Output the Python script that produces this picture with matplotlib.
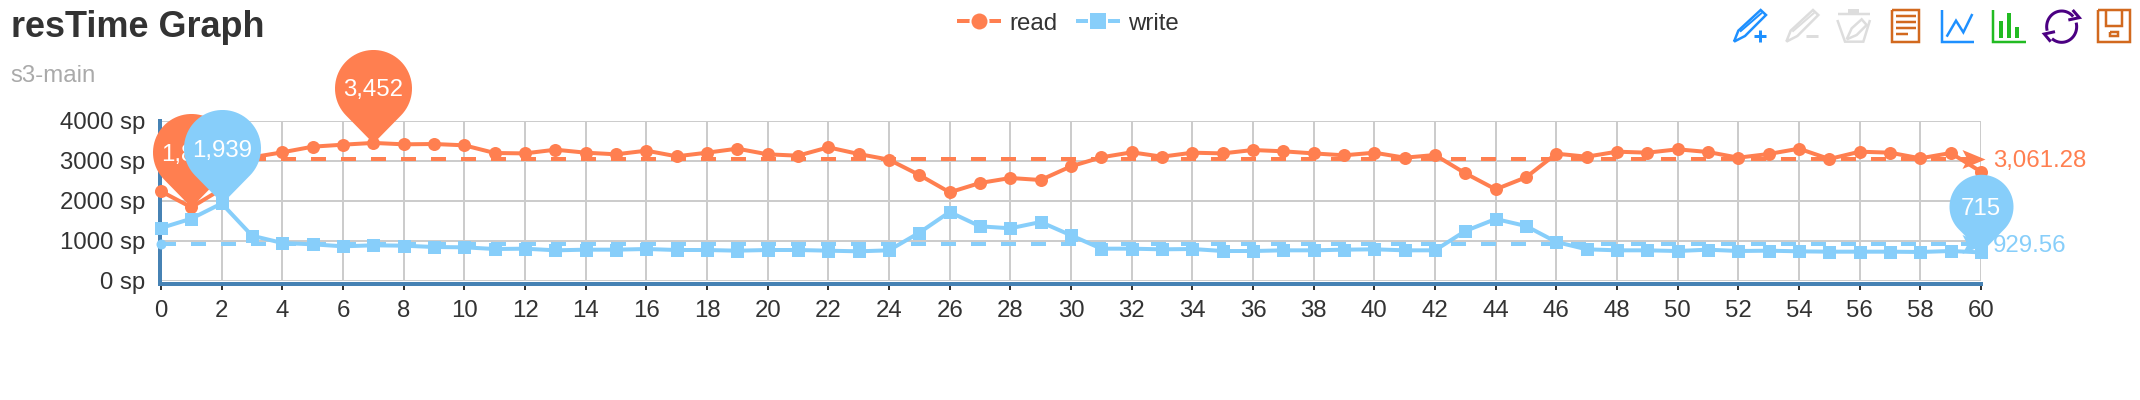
import numpy as np
import matplotlib
matplotlib.use("Agg")
import matplotlib.pyplot as plt
from matplotlib.path import Path
from matplotlib.patches import Rectangle

plt.rcParams['font.family'] = ['Liberation Sans', 'DejaVu Sans']

# ---------- data ----------
x_values = list(range(61))
read_values = [2242, 1842, 2300, 3092, 3217, 3358, 3408, 3452, 3417, 3425,
               3392, 3200, 3190, 3283, 3208, 3167, 3258, 3117, 3208, 3308,
               3167, 3133, 3342, 3175, 3033, 2650, 2217, 2450, 2575, 2525,
               2867, 3092, 3217, 3108, 3208, 3190, 3275, 3242, 3190, 3142,
               3208, 3083, 3150, 2692, 2292, 2592, 3183, 3108, 3233, 3208,
               3292, 3225, 3083, 3175, 3308, 3050, 3233, 3208, 3067, 3200, 2733]
write_values = [1325, 1558, 1939, 1133, 950, 917, 867, 892, 883, 850,
                842, 800, 808, 767, 783, 783, 800, 775, 775, 758,
                775, 775, 758, 742, 767, 1208, 1725, 1367, 1317, 1475,
                1142, 808, 808, 792, 800, 750, 750, 767, 767, 783,
                792, 767, 767, 1250, 1550, 1375, 975, 792, 767, 767,
                750, 783, 750, 758, 742, 733, 733, 733, 725, 750, 715]
read_mean = 3061.28
write_mean = 929.56
read_extrema = [(1, 1842), (7, 3452)]
write_extrema = [(60, 715), (2, 1939)]
y_ticks = [0, 1000, 2000, 3000, 4000]
x_ticks = list(range(0, 61, 2))
series_names = ['read', 'write']
title_text = 'resTime Graph'
subtitle_text = 's3-main'

# ---------- style ----------
W, H = 2140, 400
DPI = 100
PT = 72 / DPI  # points per pixel
ORANGE = '#FF7F50'
BLUE = '#87CEFA'
TEXT = '#333333'
AXIS = '#4682B4'
GRID = '#CCCCCC'

fig = plt.figure(figsize=(W / DPI, H / DPI), dpi=DPI, facecolor='white')

L, R, T, B = 161, 1981, 121, 281
ax = fig.add_axes([L / W, 1 - B / H, (R - L) / W, (B - T) / H])
ax.patch.set_visible(False)
ax.set_xlim(0, 60)
ax.set_ylim(0, 4000)
ax.set_xticks(x_ticks)
ax.set_yticks(y_ticks)
ax.set_yticklabels([f'{v} sp' for v in y_ticks])
ax.grid(True, color=GRID, lw=2 * PT, zorder=0)
ax.set_axisbelow(True)
for s in ('top', 'right'):
    ax.spines[s].set_visible(False)
for s, off in (('left', 1), ('bottom', 3)):
    ax.spines[s].set_color(AXIS)
    ax.spines[s].set_linewidth(4 * PT)
    ax.spines[s].set_position(('outward', off * PT))
ax.spines['left'].set_bounds(-75, 4000)
ax.spines['bottom'].set_bounds(0, 60)
ax.spines['left'].set_zorder(1.5)
ax.spines['bottom'].set_zorder(1.5)
ax.tick_params(axis='x', length=6 * PT, width=2 * PT, color=TEXT, labelcolor=TEXT,
               labelsize=24 * PT, pad=10 * PT)
ax.tick_params(axis='y', length=0, labelcolor=TEXT, labelsize=24 * PT, pad=15 * PT)


def pin_path():
    """Teardrop with its tip at the origin; unit: circle radius."""
    d = 55.0 / 38.5
    a = np.arcsin(1 / d)
    th = np.linspace(-a, np.pi + a, 60)
    v = np.column_stack([np.cos(th), d + np.sin(th)])
    v = np.vstack([[0, 0], v, [0, 0]])
    return Path(v, closed=True), d + 1


PIN, PIN_H = pin_path()


def draw_pin(xv, yv, color, radius, z):
    height_px = PIN_H * radius
    ax.plot([xv], [yv], marker=PIN, markersize=2 * height_px * PT, color=color, mew=0,
            ls='none', clip_on=False, zorder=z)
    ax.annotate(f'{yv:,}', (xv, yv), xytext=(0, (PIN_H - 1) * radius * PT),
                textcoords='offset points', ha='center', va='center_baseline', color='white',
                fontsize=24 * PT, zorder=z + 0.1, annotation_clip=False)


ARROW = Path([(4, 0), (-19, 9.5), (-14, 0), (-19, -9.5), (4, 0)], closed=True)

for vals, mean, col, mk, z in ((read_values, read_mean, ORANGE, 'o', 3),
                               (write_values, write_mean, BLUE, 's', 4)):
    ax.plot(x_values, vals, color=col, lw=4 * PT, marker=mk, ms=13 * PT, mew=0,
            clip_on=False, zorder=z, solid_joinstyle='round')
    ax.plot([x_values[0], x_values[-1]], [mean, mean], color=col, lw=4 * PT,
            dashes=(15 / 4, 15 / 4), clip_on=False, zorder=z - 0.5)
    ax.plot([x_values[0]], [mean], marker='o', ms=10 * PT, mew=0, color=col, ls='none',
            clip_on=False, zorder=z - 0.4)
    ax.plot([x_values[-1]], [mean], marker=ARROW, ms=2 * 19 * PT, mew=0, color=col, ls='none',
            clip_on=False, zorder=z - 0.4)

ax.annotate(f'{read_mean:,.2f}', (x_values[-1], read_mean), xytext=(12 * PT, 0),
            textcoords='offset points', color=ORANGE, fontsize=24 * PT, ha='left',
            va='center_baseline', annotation_clip=False)
ax.annotate(f'{write_mean:,.2f}', (x_values[-1], write_mean), xytext=(12 * PT, 0),
            textcoords='offset points', color=BLUE, fontsize=24 * PT, ha='left',
            va='center_baseline', annotation_clip=False, zorder=7)

draw_pin(*read_extrema[0], ORANGE, 38.5, 5)
draw_pin(*read_extrema[1], ORANGE, 38.5, 5)
draw_pin(*write_extrema[0], BLUE, 32, 6)
draw_pin(*write_extrema[1], BLUE, 38.5, 6)

# ---------- legend ----------
handles = [plt.Line2D([], [], color=ORANGE, lw=4 * PT, marker='o', ms=18 * PT,
                      mfc=ORANGE, mec='white', mew=2 * PT),
           plt.Line2D([], [], color=BLUE, lw=4 * PT, marker='s', ms=18 * PT,
                      mfc=BLUE, mec='white', mew=2 * PT)]
leg = fig.legend(handles, series_names, loc='center', bbox_to_anchor=(1069 / W, 1 - 23.5 / H),
                 ncol=2, frameon=False, fontsize=24 * PT, labelcolor=TEXT, borderpad=0,
                 borderaxespad=0, handlelength=40 / 24, handletextpad=10 / 24,
                 columnspacing=21 / 24)

# ---------- overlay in pixel coordinates (titles, toolbox) ----------
ov = fig.add_axes([0, 0, 1, 1], zorder=-1)
ov.set_xlim(0, W)
ov.set_ylim(H, 0)
ov.axis('off')
ov.text(11, 37, title_text, fontsize=36 * PT, fontweight='bold', color=TEXT, va='baseline')
ov.text(10, 82.5, subtitle_text, fontsize=24 * PT, color='#AAAAAA', va='baseline')


def poly(pts, color, ox=1720, lw=2.5, closed=False):
    p = np.array(pts, dtype=float) / 3
    if closed:
        p = np.vstack([p, p[:1]])
    ov.plot(p[:, 0] + ox, p[:, 1], color=color, lw=lw * PT, solid_joinstyle='miter',
            solid_capstyle='butt')


PEN = '#1E90FF'
GREY = '#DDDDDD'
BROWN = '#D2691E'
GREEN = '#22BB22'
PURPLE = '#4B0082'

pen = [(42, 125), (55, 92), (122, 30), (138, 45), (75, 108)]
for dx, c in ((0, PEN), (157, GREY)):
    poly([(a + dx, b) for a, b in pen], c, closed=True)
    poly([(60 + dx, 95), (126 + dx, 38)], c, lw=2)
poly([(102, 108), (138, 108)], PEN, lw=3)
poly([(120, 90), (120, 126)], PEN, lw=3)
poly([(258, 108), (295, 108)], GREY, lw=3)
poly([(353, 42), (450, 42)], GREY)
ov.add_patch(Rectangle((1720 + 385 / 3, 28 / 3), 33 / 3, 14 / 3, color=GREY, lw=0))
poly([(352, 60), (375, 125), (430, 125), (450, 60)], GREY)
poly([(380, 118), (395, 85), (425, 58), (440, 75), (410, 105)], GREY, closed=True)
poly([(515, 30), (597, 30), (597, 127), (515, 127)], BROWN, closed=True)
for yy, xe in ((47, 588), (66, 588), (84, 588), (102, 565)):
    poly([(528, yy), (xe, yy)], BROWN)

poly([(65, 30), (65, 127), (162, 127)], PEN, ox=1920)
poly([(80, 110), (108, 62), (130, 97), (157, 42)], PEN, ox=1920)
poly([(220, 30), (220, 127), (318, 127)], GREEN, ox=1920)
for a, b, top in ((237, 249, 63), (261, 273, 39), (285, 297, 81)):
    ov.add_patch(Rectangle((1920 + a / 3, top / 3), (b - a) / 3, (113 - top) / 3, color=GREEN, lw=0))
th1 = np.radians(np.linspace(165, 320, 30))
th2 = np.radians(np.linspace(-15, 130, 30))
for th in (th1, th2):
    poly(np.column_stack([425 + 45 * np.cos(th), 80 + 47 * np.sin(th)]), PURPLE, ox=1920, lw=3)
poly([(458, 30), (478, 53), (445, 60)], PURPLE, ox=1920, lw=3)
poly([(405, 95), (373, 102), (392, 125)], PURPLE, ox=1920, lw=3)
poly([(1343, 30), (1441, 30), (1441, 127), (1343, 127)], BROWN, ox=1650, closed=True)
poly([(1367, 30), (1367, 77), (1417, 77), (1417, 30)], BROWN, ox=1650)
poly([(1380, 95), (1405, 95), (1405, 108), (1380, 108)], BROWN, ox=1650, closed=True)

fig.savefig('out.png', dpi=DPI, facecolor='white')
